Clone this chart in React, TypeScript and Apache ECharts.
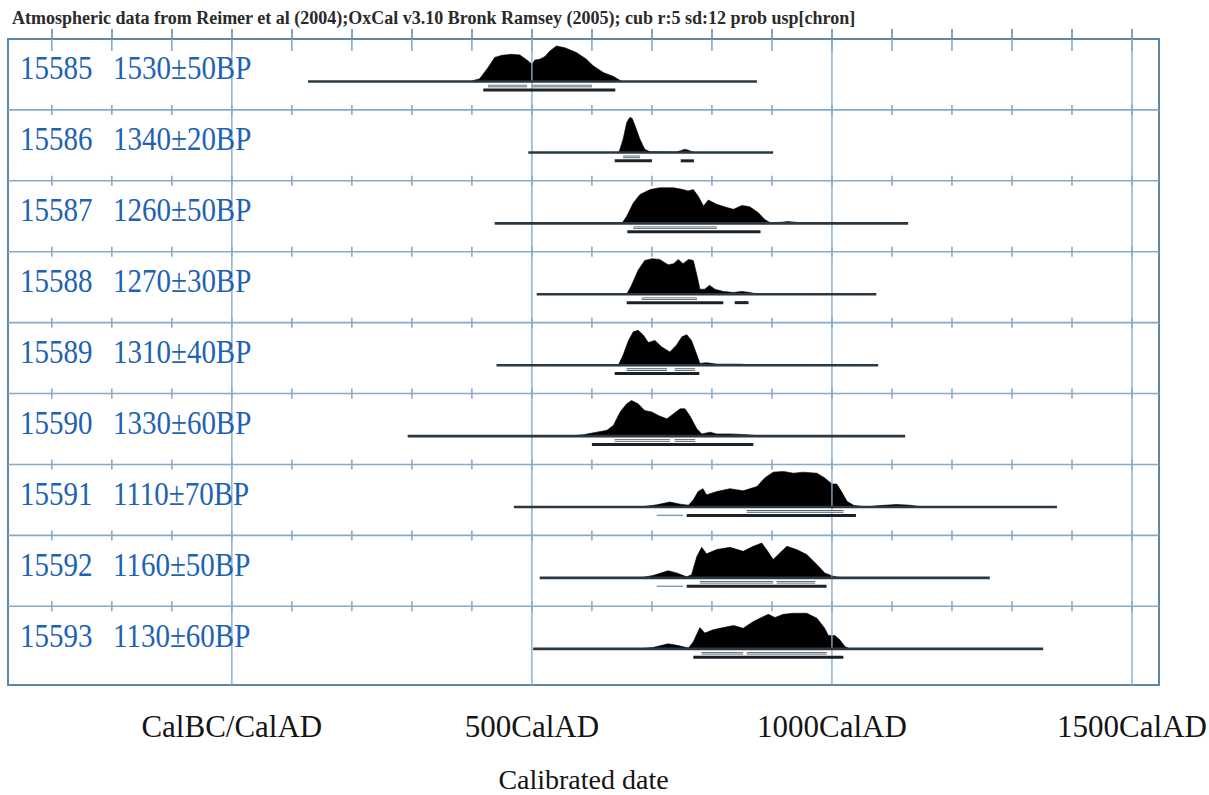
import React, { useEffect, useRef } from "react";
import * as echarts from "echarts";

const chartTitle =
  "Atmospheric data from Reimer et al (2004);OxCal v3.10 Bronk Ramsey (2005); cub r:5 sd:12 prob usp[chron]";
const axisTitle = "Calibrated date";

const labNumbers = ["15585", "15586", "15587", "15588", "15589", "15590", "15591", "15592", "15593"];
const bpDates = [
  "1530±50BP", "1340±20BP", "1260±50BP", "1270±30BP", "1310±40BP",
  "1330±60BP", "1110±70BP", "1160±50BP", "1130±60BP",
];

// full extent of each calibrated distribution (cal years AD)
const rangeStart = [127, 494, 438, 508, 441, 293, 470, 513, 502];
const rangeEnd = [875, 902, 1127, 1074, 1077, 1122, 1375, 1263, 1352];

// relative probability density [year, relative height]
const dens15585 = [[397,0],[413,0.08],[427,0.39],[438,0.67],[450,0.73],[466,0.76],[480,0.74],[494,0.57],[500,0.48],[505,0.6],[513,0.62],[522,0.7],[530,0.85],[541,0.99],[555,0.94],[574,0.81],[591,0.62],[602,0.44],[619,0.25],[636,0.14],[650,0]];
const dens15586 = [[645,0],[652,0.37],[658,0.83],[663,0.97],[667,0.95],[672,0.74],[680,0.37],[688,0.09],[697,0.02],[740,0.01],[748,0.05],[755,0.09],[763,0.05],[770,0]];
const dens15587 = [[650,0],[658,0.2],[669,0.57],[680,0.8],[697,0.94],[713,0.99],[736,0.99],[752,0.94],[760,0.9],[769,0.94],[777,0.76],[786,0.48],[794,0.65],[808,0.53],[825,0.44],[836,0.39],[850,0.5],[863,0.46],[877,0.3],[888,0.11],[897,0.02],[915,0.03],[927,0.05],[940,0.03],[958,0]];
const dens15588 = [[658,0],[666,0.25],[677,0.67],[688,0.94],[700,0.99],[713,0.97],[727,0.82],[736,0.85],[744,0.97],[752,0.85],[761,0.97],[769,0.94],[775,0.53],[780,0.14],[788,0.14],[796,0.25],[805,0.14],[819,0.08],[836,0.05],[850,0.08],[863,0.05],[877,0]];
const dens15589 = [[644,0],[652,0.28],[661,0.69],[669,0.93],[677,0.97],[686,0.83],[694,0.63],[705,0.69],[716,0.51],[730,0.37],[741,0.56],[750,0.79],[758,0.85],[766,0.69],[775,0.28],[780,0.05],[791,0.07],[808,0.03],[847,0.03],[875,0]];
const dens15590 = [[563,0],[586,0.04],[608,0.11],[625,0.16],[636,0.3],[647,0.67],[658,0.9],[666,0.99],[677,0.9],[688,0.71],[700,0.67],[711,0.57],[725,0.48],[736,0.62],[747,0.76],[755,0.76],[763,0.57],[775,0.2],[783,0.06],[797,0.11],[808,0.06],[830,0.06],[858,0.04],[883,0]];
const dens15591 = [[680,0],[708,0.06],[730,0.14],[747,0.08],[761,0.05],[769,0.2],[777,0.43],[785,0.51],[791,0.34],[808,0.43],[830,0.51],[852,0.45],[875,0.57],[888,0.81],[902,0.97],[919,0.99],[936,0.94],[952,0.97],[975,0.94],[988,0.81],[1000,0.64],[1008,0.64],[1016,0.43],[1025,0.16],[1036,0.05],[1047,0.02],[1060,0.01],[1080,0.04],[1108,0.07],[1130,0.05],[1152,0]];
const dens15592 = [[680,0],[702,0.07],[727,0.2],[741,0.14],[758,0.03],[766,0.09],[775,0.6],[783,0.85],[791,0.67],[808,0.79],[830,0.85],[852,0.74],[869,0.88],[883,0.97],[891,0.79],[902,0.51],[913,0.69],[925,0.88],[941,0.79],[958,0.65],[975,0.37],[988,0.14],[1002,0.05],[1016,0]];
const dens15593 = [[680,0],[702,0.04],[727,0.14],[744,0.09],[761,0.02],[769,0.2],[780,0.59],[788,0.44],[802,0.53],[819,0.59],[836,0.65],[852,0.57],[869,0.76],[886,0.9],[894,0.96],[905,0.87],[919,0.96],[936,0.99],[958,0.99],[975,0.85],[988,0.57],[994,0.37],[1005,0.37],[1013,0.25],[1022,0.06],[1030,0]];
const densities = [dens15585, dens15586, dens15587, dens15588, dens15589, dens15590, dens15591, dens15592, dens15593];

// 95.4% and 68.2% probability ranges [from, to]
const ranges95 = [
  [[419, 639]],
  [[638, 700], [748, 770]],
  [[659, 881]],
  [[658, 819], [838, 861]],
  [[638, 779]],
  [[600, 869]],
  [[758, 1040]],
  [[758, 991]],
  [[769, 1019]],
];
// minor low-probability parts of the 95.4% range
const ranges95minor = [[], [], [], [], [], [], [[708, 752]], [[708, 752]], []];
const ranges68 = [
  [[427, 492], [500, 600]],
  [[652, 680]],
  [[669, 808]],
  [[683, 775]],
  [[658, 725], [738, 772]],
  [[638, 730], [738, 772]],
  [[858, 1019]],
  [[780, 902], [908, 972]],
  [[783, 852], [858, 991]],
];

const tickYears = [-300, -200, -100, 0, 100, 200, 300, 400, 500, 600, 700, 800, 900, 1000, 1100, 1200, 1300, 1400, 1500];
const labelYears = [0, 500, 1000, 1500];
const labelTexts = ["CalBC/CalAD", "500CalAD", "1000CalAD", "1500CalAD"];

// layout constants
const X_MIN = -373;
const X_MAX = 1545;
const Y_MAX = 9.11;
const BASE = 0.6;
const DENS_H = 0.507;
const OFF68 = 0.662;
const OFF95 = 0.718;
const LABEL_Y = 0.41;
const SERIF = "Liberation Serif";
const GRID_BLUE = "#86abca";
const BORDER_BLUE = "#5d87a8";
const TEXT_BLUE = "#1d62b3";

const flatten = (rs: number[][][]) => {
  const out: number[][] = [];
  rs.forEach((r, i) => r.forEach(([a, b]) => out.push([a, b, i])));
  return out;
};

export default function App() {
  const ref = useRef<HTMLDivElement>(null);

  useEffect(() => {
    if (!ref.current) return;
    const chart = echarts.init(ref.current, null, { renderer: "svg" });

    const seg95 = flatten(ranges95);
    const seg95minor = flatten(ranges95minor);
    const seg68 = flatten(ranges68);
    const rowData = labNumbers.map((_, i) => [rangeStart[i], rangeEnd[i], i]);

    const segLine = (off: number, stroke: string, lineWidth: number) => (params: any, api: any) => {
      const i = api.value(2);
      const p1 = api.coord([api.value(0), i + off]);
      const p2 = api.coord([api.value(1), i + off]);
      return {
        type: "line",
        shape: { x1: p1[0], y1: p1[1], x2: p2[0], y2: p2[1] },
        style: { stroke, lineWidth },
      };
    };

    const option: any = {
      animation: false,
      title: {
        text: chartTitle,
        left: 7,
        top: 4,
        textStyle: { fontFamily: SERIF, fontSize: 18, fontWeight: "bold", color: "#2a2a2a" },
      },
      grid: {
        left: 8,
        top: 39,
        width: 1151,
        height: 646,
        outerBoundsMode: "none",
        containLabel: false,
        show: true,
        borderColor: BORDER_BLUE,
        borderWidth: 2,
        backgroundColor: "transparent",
      },
      xAxis: {
        type: "value",
        min: X_MIN,
        max: X_MAX,
        axisLine: { show: false },
        splitLine: { show: false },
        axisTick: {
          show: true,
          inside: true,
          length: 10,
          customValues: tickYears,
          lineStyle: { color: BORDER_BLUE, width: 1.5 },
        },
        axisLabel: {
          customValues: labelYears,
          formatter: (v: number) => labelTexts[labelYears.indexOf(v)] ?? "",
          fontFamily: SERIF,
          fontSize: 31,
          color: "#141414",
          margin: 26,
        },
        name: axisTitle,
        nameLocation: "middle",
        nameGap: 85,
        nameTextStyle: { fontFamily: SERIF, fontSize: 28, lineHeight: 18, color: "#141414" },
      },
      yAxis: { type: "value", min: 0, max: Y_MAX, inverse: true, show: false },
      series: [
        {
          type: "custom",
          name: "frame",
          z: 1,
          silent: true,
          data: [[X_MIN, 0]],
          renderItem: (params: any, api: any) => {
            const children: any[] = [];
            const style = { stroke: GRID_BLUE, lineWidth: 1.6 };
            for (let r = 1; r < labNumbers.length; r++) {
              const p1 = api.coord([X_MIN, r]);
              const p2 = api.coord([X_MAX, r]);
              children.push({ type: "line", shape: { x1: p1[0], y1: p1[1], x2: p2[0], y2: p2[1] }, style });
              tickYears.forEach((t) => {
                const p = api.coord([t, r]);
                children.push({
                  type: "line",
                  shape: { x1: p[0], y1: p[1] - 5, x2: p[0], y2: p[1] + 5 },
                  style,
                });
              });
            }
            tickYears.forEach((t) => {
              const p = api.coord([t, 0]);
              children.push({
                type: "line",
                shape: { x1: p[0], y1: p[1], x2: p[0], y2: p[1] + 12 },
                style,
              });
            });
            return { type: "group", children };
          },
        },
        {
          type: "custom",
          name: "density",
          z: 2,
          silent: true,
          data: rowData,
          encode: { x: [0, 1], y: 2 },
          renderItem: (params: any, api: any) => {
            const i = api.value(2);
            const pts = densities[i].map(([yr, d]) => api.coord([yr, i + BASE - d * DENS_H]));
            return {
              type: "polygon",
              shape: { points: pts },
              style: { fill: "#000", stroke: "#000", lineWidth: 0.6 },
            };
          },
        },
        {
          type: "custom",
          name: "gridlines",
          z: 3,
          silent: true,
          data: labelYears.map((y) => [y, 0]),
          renderItem: (params: any, api: any) => {
            const p1 = api.coord([api.value(0), 0]);
            const p2 = api.coord([api.value(0), Y_MAX]);
            return {
              type: "line",
              shape: { x1: p1[0], y1: p1[1], x2: p2[0], y2: p2[1] },
              style: { stroke: GRID_BLUE, lineWidth: 1.4 },
            };
          },
        },
        {
          type: "custom",
          name: "calibrated range",
          z: 4,
          silent: true,
          data: rowData,
          encode: { x: [0, 1], y: 2 },
          renderItem: segLine(BASE, "#2b3842", 2.6),
        },
        {
          type: "custom",
          name: "95.4%",
          z: 4,
          silent: true,
          data: seg95,
          encode: { x: [0, 1], y: 2 },
          renderItem: segLine(OFF95, "#1a2229", 3),
        },
        {
          type: "custom",
          name: "95.4% minor",
          z: 4,
          silent: true,
          data: seg95minor,
          encode: { x: [0, 1], y: 2 },
          renderItem: segLine(OFF95, "#7d9cb8", 1.4),
        },
        {
          type: "custom",
          name: "68.2%",
          z: 5,
          silent: true,
          data: seg68,
          encode: { x: [0, 1], y: 2 },
          renderItem: (params: any, api: any) => {
            const i = api.value(2);
            const p1 = api.coord([api.value(0), i + OFF68]);
            const p2 = api.coord([api.value(1), i + OFF68]);
            const shape = { x1: p1[0], y1: p1[1], x2: p2[0], y2: p2[1] };
            return {
              type: "group",
              children: [
                { type: "line", shape, style: { stroke: "#4a5660", lineWidth: 2.6 } },
                { type: "line", shape, style: { stroke: "#e6e6e6", lineWidth: 1 } },
              ],
            };
          },
        },
        {
          type: "custom",
          name: "labels",
          z: 6,
          silent: true,
          data: rowData,
          encode: { x: [0, 1], y: 2 },
          renderItem: (params: any, api: any) => {
            const i = api.value(2);
            const p = api.coord([X_MIN, i + LABEL_Y]);
            const mk = (text: string, dx: number) => ({
              type: "text",
              x: p[0] + dx,
              y: p[1],
              scaleY: 1.18,
              style: {
                text,
                fill: TEXT_BLUE,
                fontFamily: SERIF,
                fontSize: 29,
                align: "left",
                verticalAlign: "middle",
              },
            });
            return { type: "group", children: [mk(labNumbers[i], 12), mk(bpDates[i], 105)] };
          },
        },
      ],
    };

    chart.setOption(option);
    return () => chart.dispose();
  }, []);

  return (
    <div
      ref={ref}
      style={{ position: "fixed", left: 0, top: 0, width: 1209, height: 795, background: "#fff" }}
    />
  );
}
